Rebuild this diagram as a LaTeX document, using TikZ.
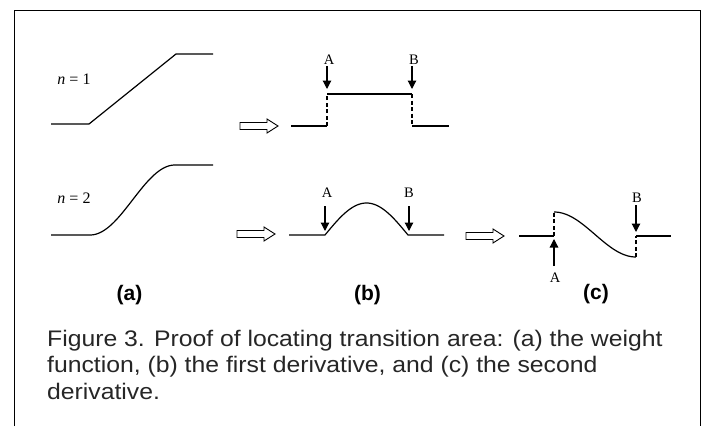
\documentclass[tikz,border=0pt]{standalone}
\usepackage{fontspec}
\setmainfont{Liberation Serif}
\newfontfamily\capfont[FakeStretch=1.1]{Liberation Sans}
\newfontfamily\labfont{Liberation Sans}
\usetikzlibrary{arrows.meta}
\begin{document}
\begin{tikzpicture}[x=1pt,y=-1pt,
  curve/.style={line width=1.2pt, black, line join=round},
  dashv/.style={line width=1.1pt, dash pattern=on 4pt off 2.5pt},
  ptr/.style={line width=1.2pt, -{Triangle[length=8.5pt,width=8.5pt]}},
  lbl/.style={font=\fontsize{14.5}{14.5}\selectfont, inner sep=0pt},
  nlbl/.style={font=\fontsize{16}{16}\selectfont, inner sep=0pt},
  sublbl/.style={font=\labfont\bfseries\fontsize{21}{21}\selectfont, inner sep=0pt},
  caption/.style={font=\capfont\fontsize{22.5}{26.5}\selectfont, inner sep=0pt, anchor=base west, text=black!85},
  hollow/.style={line width=0.9pt, fill=white},
  hollowarrow/.pic={\draw[hollow] (0,-3.5) -- (27,-3.5) -- (27,-7) -- (38,0) -- (27,7) -- (27,3.5) -- (0,3.5) -- cycle;}
]
\useasboundingbox (0,0) rectangle (707,426);
% frame
\draw[line width=1.5pt] (14.5,426) -- (14.5,10.5) -- (700.5,10.5) -- (700.5,426);

% (a) n=1
\node[nlbl] (n1) at (74,79) {\textit{n} = 1};
\draw[curve] (51,124) -- (89,124) -- (176,54) -- (213,54);
% (a) n=2
\node[nlbl] (n2) at (74,198) {\textit{n} = 2};
\draw[curve] (51,235) -- (90,235) -- plot[domain=0:1, samples=60, variable=\t] ({90+85*\t},{235-70*(1-cos(180*\t))/2}) -- (213,165);

% (b) top
\pic at (240,126) {hollowarrow};
\draw[curve] (291,126) -- (327,126);
\draw[dashv] (327,126) -- (327,94);
\draw[curve] (327,94) -- (412,94);
\draw[dashv] (412,94) -- (412,126);
\draw[curve] (412,126) -- (449,126);
\node[lbl] (bA1) at (329,60) {A};
\node[lbl] (bB1) at (414,60) {B};
\coordinate (bA1t) at (327,89);
\coordinate (bB1t) at (412,89);
\draw[ptr] (327,66) -- (bA1t);
\draw[ptr] (412,66) -- (bB1t);

% (b) bottom
\pic at (237,234) {hollowarrow};
\draw[curve] (289,235) -- (325,235) -- plot[domain=0:1, samples=60, variable=\t] ({325+83*\t},{235-32*sin(180*\t)}) -- (444,235);
\node[lbl] (bA2) at (327,193) {A};
\node[lbl] (bB2) at (409,193) {B};
\coordinate (bA2t) at (325,231);
\coordinate (bB2t) at (409,231);
\draw[ptr] (325,206) -- (bA2t);
\draw[ptr] (409,206) -- (bB2t);

% (c)
\pic at (466,236) {hollowarrow};
\draw[curve] (519,236) -- (554,236);
\draw[dashv] (554,236) -- (554,212);
\draw[curve] plot[domain=0:1, samples=60, variable=\t] ({554+82*\t},{234.5-22.5*cos(180*\t)});
\draw[dashv] (636,257) -- (636,236);
\draw[curve] (636,236) -- (671,236);
\node[lbl] (cA) at (555,278) {A};
\node[lbl] (cB) at (637,198) {B};
\coordinate (cAt) at (554,239);
\coordinate (cBt) at (636,232);
\draw[ptr] (554,266) -- (cAt);
\draw[ptr] (636,205) -- (cBt);

% sub labels
\node[sublbl] (la) at (129.5,295) {(a)};
\node[sublbl] (lb) at (367.5,295) {(b)};
\node[sublbl] (lc) at (596,294) {(c)};

% caption
\node[caption] (cap1) at (47,346) {Figure 3. Proof of locating transition area: (a) the weight};
\node[caption] (cap2) at (47,372.5) {function, (b) the first derivative, and (c) the second};
\node[caption] (cap3) at (47,399) {derivative.};
\end{tikzpicture}
\end{document}
